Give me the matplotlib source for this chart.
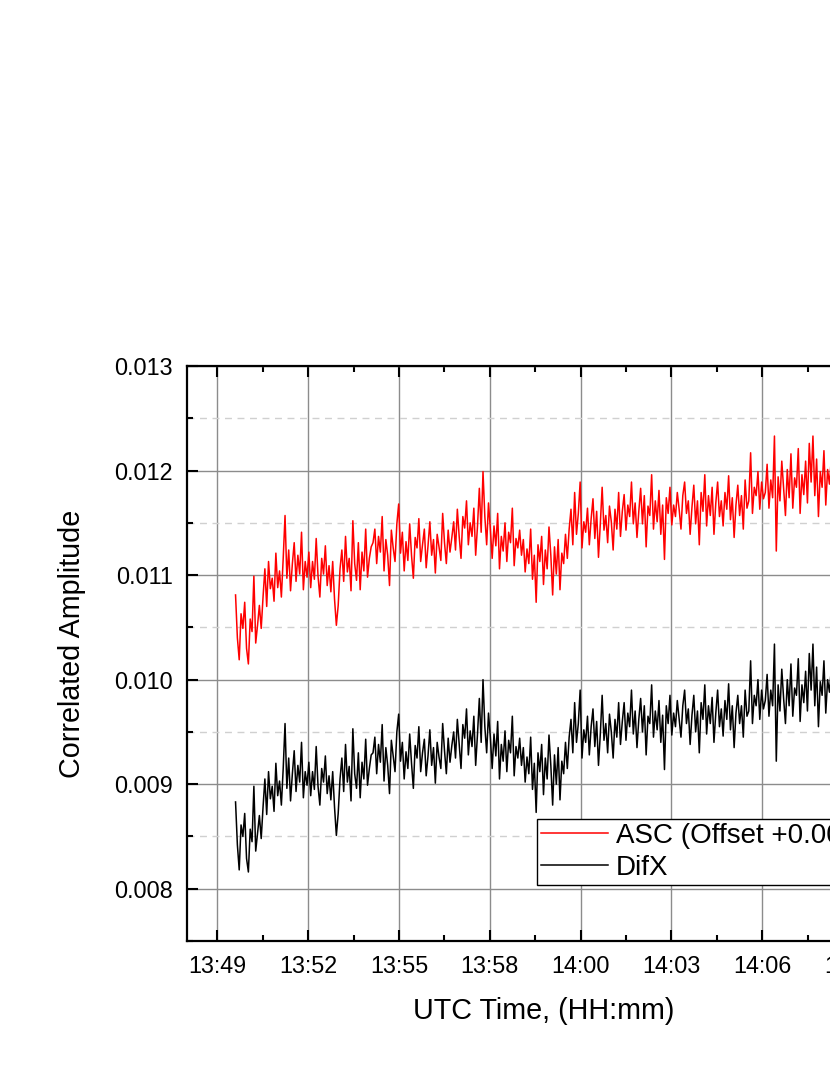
import numpy as np
import matplotlib
matplotlib.use("Agg")
import matplotlib.pyplot as plt
from matplotlib.ticker import FixedLocator, MultipleLocator, FormatStrFormatter

plt.rcParams['font.family'] = ['Liberation Sans', 'DejaVu Sans']

# ---------------- data (values in units of 1e-5) ----------------
difx_e5 = [
    883, 842, 818, 861, 850, 872, 829, 816, 857, 845, 898, 836, 853, 870, 848,
    878, 905, 871, 912, 886, 898, 874, 920, 889, 903, 880,
    915, 958, 896, 925, 884, 910, 932, 893, 918, 902, 940, 887, 912, 899,
    921, 889, 912, 895, 936, 898, 880, 915, 902, 927, 891, 908, 885, 912,
    878, 851, 872,
    905, 925, 893, 938, 902, 917, 884, 953, 910, 896, 930, 887, 921, 905, 943, 899, 915, 928,
    930, 945, 910, 938, 921, 957, 903, 935, 918, 891, 942, 927, 912, 950, 967,
    922, 940, 905, 931, 915, 948, 920, 896, 937, 925, 955, 912, 930, 943, 908,
    927, 952, 918, 935, 901, 940, 926, 915, 958, 932, 910, 944, 921, 937,
    950, 925, 962, 938, 915, 957, 944, 972, 928, 951, 936, 965, 918, 948, 982,
    940, 1000, 955, 930, 968, 945,
    915, 948, 927, 960, 905, 938, 922, 951, 912, 942, 930, 965, 908, 936, 925, 944,
    918, 935, 902, 926, 910, 945, 895, 920, 873, 930, 912, 938, 890, 925, 905,
    947, 918, 880, 928, 900, 935, 885, 922, 910, 940, 915,
    945, 962, 930, 978, 940, 958, 990, 925, 952,
    940, 965, 928, 955, 972, 936, 960, 918, 948, 985, 942, 958, 930, 967, 950,
    925, 962, 945, 978, 938,
    960, 978, 942, 968, 955, 990, 948, 970, 935, 962, 982, 950, 975, 928, 965,
    958, 995, 945, 970, 952, 980, 940, 966, 914, 975, 958, 985, 947, 968,
    955, 980, 962, 945, 975, 990, 958, 972, 938, 966, 985, 950, 970, 930, 978,
    962, 995, 948, 975, 958, 983, 940, 968, 990, 955, 972, 946, 980, 962, 996,
    952, 975, 935, 968, 985, 958, 975, 945, 990, 965,
    970, 1018, 958, 985, 975, 1000, 962, 990, 972,
    980, 1005, 965, 990, 975, 1034, 922, 995, 970, 1010, 982, 958, 1000, 975, 1015,
    965, 992, 985, 1020, 960, 995, 978, 1008, 970, 1025, 990, 1034, 975, 1012, 955,
    998, 985, 1018, 968, 1000, 988, 1010, 972, 995,
]

asc_raw_e5 = [
    881, 840, 819, 863, 849, 874, 830, 815, 858, 846, 899, 835, 852, 871, 849,
    879, 906, 870, 913, 887, 897, 875, 921, 888, 904, 879,
    916, 957, 897, 924, 885, 911, 931, 894, 919, 901, 941, 886, 913, 898,
    922, 888, 913, 896, 935, 899, 879, 916, 901, 928, 890, 909, 884, 913,
    877, 852, 871,
    906, 924, 894, 937, 903, 916, 885, 952, 911, 895, 931, 886, 922, 904, 944, 898, 916, 927,
    931, 944, 911, 937, 922, 956, 904, 934, 919, 890, 943, 926, 913, 949, 968,
    921, 941, 904, 932, 914, 949, 919, 897, 936, 926, 954, 913, 929, 944, 907,
    928, 951, 919, 934, 902, 939, 927, 914, 959, 931, 911, 943, 922, 936,
    951, 924, 963, 937, 916, 956, 945, 971, 929, 950, 937, 964, 919, 947, 983,
    941, 999, 956, 929, 969, 944,
    916, 947, 928, 959, 906, 937, 923, 950, 913, 941, 931, 964, 909, 935, 926, 943,
    919, 934, 903, 925, 911, 944, 896, 919, 874, 929, 913, 937, 891, 924, 906,
    946, 919, 881, 927, 901, 934, 886, 921, 911, 939, 916,
    944, 963, 929, 979, 939, 959, 989, 926, 951,
    941, 964, 929, 954, 973, 935, 961, 917, 949, 984, 943, 957, 931, 966, 951,
    924, 963, 944, 979, 937,
    961, 977, 943, 967, 956, 989, 949, 969, 936, 961, 983, 949, 976, 927, 966,
    957, 996, 944, 971, 951, 981, 939, 967, 915, 974, 959, 984, 948, 967,
    956, 979, 963, 944, 976, 989, 959, 971, 939, 965, 986, 949, 971, 929, 979,
    961, 996, 947, 976, 957, 984, 939, 969, 989, 956, 971, 947, 979, 963, 995,
    953, 974, 936, 967, 986, 957, 976, 944, 991, 964,
    971, 1017, 959, 984, 976, 999, 963, 989, 973,
    979, 1006, 964, 991, 974, 1033, 923, 994, 971, 1009, 983, 957, 1001, 974, 1016,
    964, 993, 984, 1021, 959, 996, 977, 1009, 969, 1026, 989, 1033, 976, 1011, 956,
    999, 984, 1019, 967, 1001, 987, 1011, 971, 996,
]

asc_offset = 0.002
t_first_min = 49.95    # minutes after 13:00 (first sample)
t_last_min = 68.10     # last sample

tick_pos_min = [49.40, 52.15, 54.90, 57.65, 60.40, 63.15, 65.90, 68.65]
tick_labels = ['13:49', '13:52', '13:55', '13:58', '14:00', '14:03', '14:06', '14:09']
y_ticks = [0.008, 0.009, 0.010, 0.011, 0.012, 0.013]

difx = np.array(difx_e5) * 1e-5
asc = np.array(asc_raw_e5) * 1e-5 + asc_offset
t_difx = np.linspace(t_first_min, t_last_min, len(difx))
t_asc = np.linspace(t_first_min, t_last_min, len(asc))

# ---------------- figure ----------------
W, H = 830, 1075
fig = plt.figure(figsize=(W / 100, H / 100), dpi=100)
ax_left, ax_bottom = 187 / W, 1 - 941 / H
ax_w, ax_h = 713 / W, 575 / H
ax = fig.add_axes([ax_left, ax_bottom, ax_w, ax_h])

ax.plot(t_asc, asc, color='#ff0000', lw=1.1, label='ASC (Offset +0.002)', zorder=3)
ax.plot(t_difx, difx, color='black', lw=1.1, label='DifX', zorder=3)

ax.set_xlim(48.48, 70.07)
ax.set_ylim(0.0075, 0.013)

ax.xaxis.set_major_locator(FixedLocator(tick_pos_min))
ax.set_xticklabels(tick_labels)
minor_x = [p + 1.375 for p in tick_pos_min] + [tick_pos_min[0] - 1.375]
ax.xaxis.set_minor_locator(FixedLocator(minor_x))
ax.yaxis.set_major_locator(FixedLocator(y_ticks))
ax.yaxis.set_minor_locator(MultipleLocator(0.0005))
ax.yaxis.set_major_formatter(FormatStrFormatter('%.3f'))

ax.grid(which='major', color='#8c8c8c', lw=1.0, zorder=0)
ax.yaxis.grid(which='minor', color='#d0d0d0', ls=(0, (5, 4)), lw=1.0)
ax.xaxis.grid(which='minor', visible=False)
ax.set_axisbelow(True)

for s in ax.spines.values():
    s.set_linewidth(1.6)
ax.tick_params(which='both', direction='in', top=True, right=True, width=1.5,
               labelsize=16.8, pad=10)
ax.tick_params(which='major', length=8)
ax.tick_params(which='minor', length=4)

ax.set_xlabel('UTC Time, (HH:mm)', fontsize=20.7, labelpad=14)
ax.set_ylabel('Correlated Amplitude', fontsize=20.7)
ax.yaxis.set_label_coords(-0.142, 0.5165)

leg = ax.legend(loc='upper left', bbox_to_anchor=(537 / W, 1 - 819 / H),
                bbox_transform=fig.transFigure, borderaxespad=0, frameon=True,
                fancybox=False, edgecolor='black', framealpha=1, fontsize=20,
                borderpad=0.15, handlelength=2.4, handletextpad=0.3,
                labelspacing=0.2)
leg.get_frame().set_linewidth(1.0)
leg.set_zorder(5)

fig.savefig('out.png', dpi=100)
